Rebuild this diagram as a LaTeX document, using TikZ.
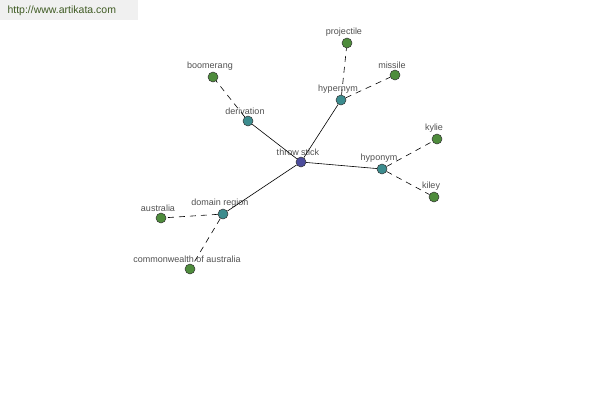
\documentclass[tikz,border=0pt]{standalone}
\usepackage{fontspec}
\setmainfont{Liberation Sans}

\definecolor{rootcol}{HTML}{4C4C9C}
\definecolor{relcol}{HTML}{3C8C8E}
\definecolor{leafcol}{HTML}{4E8C3C}
\definecolor{txtcol}{HTML}{505050}
\definecolor{urlcol}{HTML}{3E5A22}

\begin{document}
\begin{tikzpicture}[
    x=1pt, y=-1pt,
    dot/.style={circle, draw=black!80, line width=0.5pt, minimum size=10pt, inner sep=0pt},
    root/.style={dot, fill=rootcol},
    rel/.style={dot, fill=relcol},
    leaf/.style={dot, fill=leafcol},
    lbl/.style={font=\fontsize{9}{10}\selectfont, text=txtcol, inner sep=1pt, xshift=-3pt},
    link/.style={black, line width=0.6pt},
    sublink/.style={black, line width=0.6pt, dash pattern=on 6pt off 5pt}
]
    \useasboundingbox (0,0) rectangle (600,400);
    \fill[black!6] (0,0) rectangle (138,20);
    \node[font=\fontsize{10.5}{12}\selectfont, text=urlcol, anchor=west] (url) at (4,11) {http://www.artikata.com};

    % centre and its relations
    \node[root, label={[lbl]above:throw stick}] (stick) at (301,162) {};
    \node[rel, label={[lbl]above:hypernym}] (hyper) at (341,100) {};
    \node[rel, label={[lbl]above:derivation}] (deriv) at (248,121) {};
    \node[rel, label={[lbl]above:hyponym}] (hypo) at (382,169) {};
    \node[rel, label={[lbl]above:domain region}] (domain) at (223,214) {};

    % leaves
    \node[leaf, label={[lbl]above:projectile}] (proj) at (347,43) {};
    \node[leaf, label={[lbl]above:missile}] (missile) at (395,75) {};
    \node[leaf, label={[lbl]above:boomerang}] (boom) at (213,77) {};
    \node[leaf, label={[lbl]above:kylie}] (kylie) at (437,139) {};
    \node[leaf, label={[lbl]above:kiley}] (kiley) at (434,197) {};
    \node[leaf, label={[lbl]above:australia}] (aus) at (161,218) {};
    \node[leaf, label={[lbl]above:commonwealth of australia}] (cwaus) at (190,269) {};

    \draw[link] (stick) -- (hyper);
    \draw[link] (stick) -- (deriv);
    \draw[link] (stick) -- (hypo);
    \draw[link] (stick) -- (domain);

    \draw[sublink] (hyper) -- (proj);
    \draw[sublink] (hyper) -- (missile);
    \draw[sublink] (deriv) -- (boom);
    \draw[sublink] (hypo) -- (kylie);
    \draw[sublink] (hypo) -- (kiley);
    \draw[sublink] (domain) -- (aus);
    \draw[sublink] (domain) -- (cwaus);
\end{tikzpicture}
\end{document}
